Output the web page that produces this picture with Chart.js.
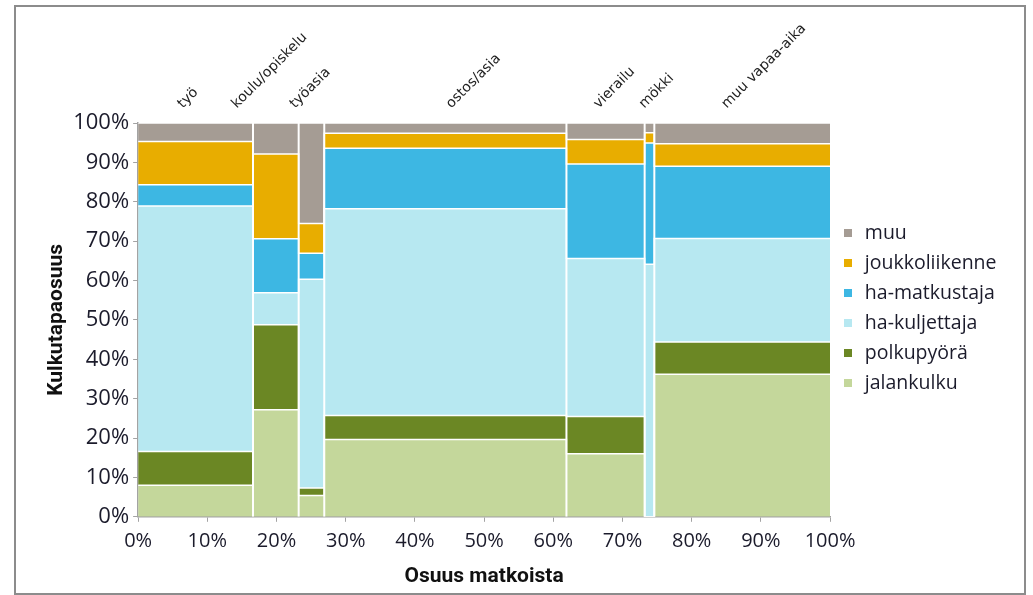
<!DOCTYPE html>
<html lang="fi">
<head>
<meta charset="UTF-8">
<title>Kulkutapaosuus matkan tarkoituksen mukaan</title>
<script src="https://cdn.jsdelivr.net/npm/chart.js"></script>
<style>
    body { margin: 0; background: #fff; }
    #frame {
        position: absolute;
        left: 14px;
        top: 5px;
        width: 1008px;
        height: 586px;
        border: 2px solid #8c8c8c;
    }
    canvas { display: block; }
</style>
</head>
<body>
<div id="frame"><canvas id="chart" width="1008" height="586"></canvas></div>
<script>
// matkan tarkoitus ja osuus kaikista matkoista (%)
const categories = ['työ', 'koulu/opiskelu', 'työasia', 'ostos/asia', 'vierailu', 'mökki', 'muu vapaa-aika'];
const tripShare = [16.6, 6.6, 3.7, 35.0, 11.3, 1.4, 25.4];

// kulkutapaosuudet (%) kullekin tarkoitukselle
const modes = ['jalankulku', 'polkupyörä', 'ha-kuljettaja', 'ha-matkustaja', 'joukkoliikenne', 'muu'];
const jalankulku     = [8.0, 27.2, 5.4, 19.6, 16.0, 0.0, 36.2];
const polkupyora     = [8.6, 21.6, 1.9, 6.1, 9.5, 0.0, 8.2];
const haKuljettaja   = [62.3, 8.1, 53.0, 52.5, 40.1, 64.1, 26.3];
const haMatkustaja   = [5.4, 13.7, 6.6, 15.4, 24.0, 30.8, 18.3];
const joukkoliikenne = [11.0, 21.5, 7.6, 3.8, 6.2, 2.6, 5.7];
const muu            = [4.7, 7.9, 25.5, 2.6, 4.2, 2.5, 5.3];

const xTicks = [0, 10, 20, 30, 40, 50, 60, 70, 80, 90, 100];
const yTicks = [0, 10, 20, 30, 40, 50, 60, 70, 80, 90, 100];

// styles
const modeColors = ['#c4d79b', '#6b8724', '#b7e8f1', '#3db7e3', '#e8ad00', '#a59c94'];
const topLabelX = [7.8, 15.6, 24.0, 46.6, 67.9, 74.5, 86.4];   // where the rotated labels start
const textColor = '#1b1b2b';
const axisColor = '#a3a3a3';

// small square legend markers
function marker(color) {
    const c = document.createElement('canvas');
    c.width = 8;
    c.height = 8;
    const g = c.getContext('2d');
    g.fillStyle = color;
    g.fillRect(0, 0, 8, 8);
    return c;
}

// column left edges from the trip shares
const starts = [];
let acc = 0;
for (const s of tripShare) { starts.push(acc); acc += s; }

const series = [jalankulku, polkupyora, haKuljettaja, haMatkustaja, joukkoliikenne, muu];

const datasets = series.map((vals, i) => {
    const pts = starts.map((x, j) => ({ x: x, y: vals[j] }));
    pts.push({ x: 100, y: vals[vals.length - 1] });
    return {
        label: modes[i],
        data: pts,
        backgroundColor: modeColors[i],
        borderColor: '#ffffff',
        borderWidth: 1.5,
        pointRadius: 0,
        pointStyle: marker(modeColors[i]),
        stepped: true,
        fill: i === 0 ? 'origin' : '-1'
    };
});

// white separators between the columns
const sepPoints = [];
for (const x of starts.slice(1)) {
    sepPoints.push({ x: x, y: 0 }, { x: x, y: 100 }, { x: x, y: null });
}
datasets.push({
    label: 'sep',
    data: sepPoints,
    yAxisID: 'ySep',
    borderColor: '#ffffff',
    borderWidth: 2,
    pointRadius: 0,
    fill: false,
    spanGaps: false,
    order: -1
});

const titleFont = { family: 'Roboto', size: 21, weight: 'bold' };

new Chart(document.getElementById('chart'), {
    type: 'line',
    data: { datasets: datasets },
    options: {
        responsive: false,
        animation: false,
        events: [],
        layout: { padding: { left: 0, right: 17.5, top: 16, bottom: 0 } },
        plugins: {
            tooltip: { enabled: false },
            legend: {
                position: 'right',
                reverse: true,
                labels: {
                    usePointStyle: true,
                    pointStyleWidth: 14.5,
                    boxHeight: 8,
                    padding: 10.5,
                    color: textColor,
                    font: { family: 'Open Sans', size: 19.5 },
                    filter: item => item.datasetIndex < modes.length
                }
            }
        },
        scales: {
            x: {
                type: 'linear',
                min: 0,
                max: 100,
                afterBuildTicks: s => { s.ticks = xTicks.map(v => ({ value: v })); },
                ticks: { color: textColor, font: { family: 'Open Sans', size: 20 }, padding: 7, callback: v => v + '%' },
                grid: { drawOnChartArea: false, tickLength: 5, color: axisColor },
                border: { color: axisColor, width: 1.5 },
                title: { display: true, text: 'Osuus matkoista', color: '#111', font: titleFont, padding: { top: 4, bottom: 4 } }
            },
            xTop: {
                type: 'linear',
                position: 'top',
                min: 0,
                max: 100,
                afterBuildTicks: s => { s.ticks = topLabelX.map(v => ({ value: v })); },
                afterFit: s => { s.height = 100; },
                ticks: {
                    autoSkip: false,
                    minRotation: 45,
                    maxRotation: 45,
                    padding: 11,
                    color: '#222',
                    font: { family: 'DejaVu Sans', size: 14 },
                    callback: (v, i) => categories[i]
                },
                grid: { display: false, drawTicks: false },
                border: { display: false }
            },
            y: {
                stacked: true,
                min: 0,
                max: 100,
                afterBuildTicks: s => { s.ticks = yTicks.map(v => ({ value: v })); },
                ticks: { color: textColor, font: { family: 'Open Sans', size: 22 }, padding: 4, callback: v => v + '%' },
                grid: { drawOnChartArea: false, tickLength: 5, color: axisColor },
                border: { color: axisColor, width: 1.5 },
                title: { display: true, text: 'Kulkutapaosuus', color: '#111', font: titleFont, padding: { top: 28, bottom: 0 } }
            },
            ySep: { display: false, min: 0, max: 100 }
        }
    }
});
</script>
</body>
</html>
